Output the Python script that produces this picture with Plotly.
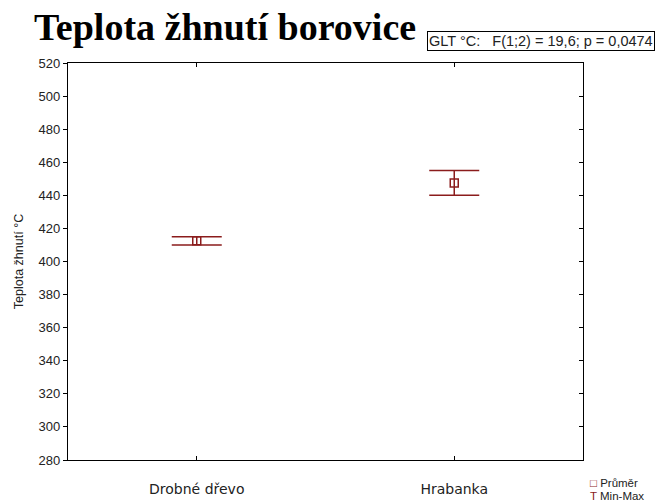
import plotly.graph_objects as go

# Data
categories = ['Drobné dřevo', 'Hrabanka']
mean_vals = [412.5, 447.5]
min_vals = [410, 440]
max_vals = [415, 455]
y_ticks = list(range(280, 521, 20))

RED = '#8b1c1c'

err_plus = [mx - m for mx, m in zip(max_vals, mean_vals)]
err_minus = [m - mn for m, mn in zip(mean_vals, min_vals)]

fig = go.Figure()

fig.add_trace(go.Scatter(
    x=categories,
    y=mean_vals,
    mode='markers',
    name='Průměr',
    marker=dict(symbol='square-open', size=8, color=RED, line=dict(width=1.5, color=RED)),
    error_y=dict(type='data', symmetric=False, array=err_plus, arrayminus=err_minus,
                 color=RED, thickness=1.5, width=25),
    showlegend=False
))

# invisible trace on the second y axis so its inside ticks are drawn on the right
fig.add_trace(go.Scatter(x=categories, y=mean_vals, yaxis='y2', mode='markers',
                         marker=dict(opacity=0), hoverinfo='skip', showlegend=False))

fig.update_layout(
    width=660,
    height=503,
    margin=dict(l=68, r=77, t=63, b=43),
    paper_bgcolor='white',
    plot_bgcolor='white',
    font=dict(family='Arial, Liberation Sans', color='#222'),
    title=dict(
        text='<b>Teplota žhnutí borovice</b>',
        font=dict(family='Liberation Serif, Times New Roman, serif', size=38, color='black'),
        x=34 / 660, xanchor='left', xref='container',
        y=1 - 27 / 503, yanchor='middle', yref='container'
    ),
    xaxis=dict(
        type='category',
        range=[-0.5, 1.5],
        showline=True, linecolor='black', linewidth=1.2, mirror='ticks',
        ticks='inside', ticklen=4, tickcolor='black',
        showgrid=False, zeroline=False, automargin=False,
        tickfont=dict(family='DejaVu Sans, Noto Sans', size=14, color='#222'),
        ticklabelstandoff=16
    ),
    yaxis=dict(
        range=[280, 520],
        tickvals=y_ticks,
        showline=True, linecolor='black', linewidth=1.2, mirror=True,
        ticks='outside', ticklen=4, tickcolor='black',
        showgrid=False, zeroline=False, automargin=False,
        tickfont=dict(size=13, color='#222'),
        title=dict(text='Teplota žhnutí °C', font=dict(size=12.5, color='#222'), standoff=12)
    ),
    yaxis2=dict(
        range=[280, 520],
        tickvals=y_ticks,
        overlaying='y', side='right',
        showline=False, showgrid=False, zeroline=False,
        ticks='inside', ticklen=4, tickcolor='black',
        showticklabels=False
    ),
    annotations=[
        dict(text='GLT °C:   F(1;2) = 19,6; p = 0,0474',
             xref='paper', yref='paper', x=(427 - 68) / 515, y=(460 - 42) / 396,
             xanchor='left', yanchor='middle', showarrow=False,
             font=dict(size=14.5, color='#222'),
             bordercolor='black', borderwidth=1, borderpad=1, bgcolor='white'),
        dict(text='<span style="color:%s"><b>□</b></span> Průměr' % RED,
             xref='paper', yref='paper', x=(588 - 68) / 515, y=(460 - 483) / 396,
             xanchor='left', yanchor='middle', showarrow=False,
             font=dict(size=11.5, color='#222')),
        dict(text='<span style="color:%s">T</span> Min-Max' % RED,
             xref='paper', yref='paper', x=(588 - 68) / 515, y=(460 - 496) / 396,
             xanchor='left', yanchor='middle', showarrow=False,
             font=dict(size=11.5, color='#222')),
    ]
)

fig.write_html("out.html", config={'displayModeBar': False},
               post_script="document.body.style.margin='0';")
